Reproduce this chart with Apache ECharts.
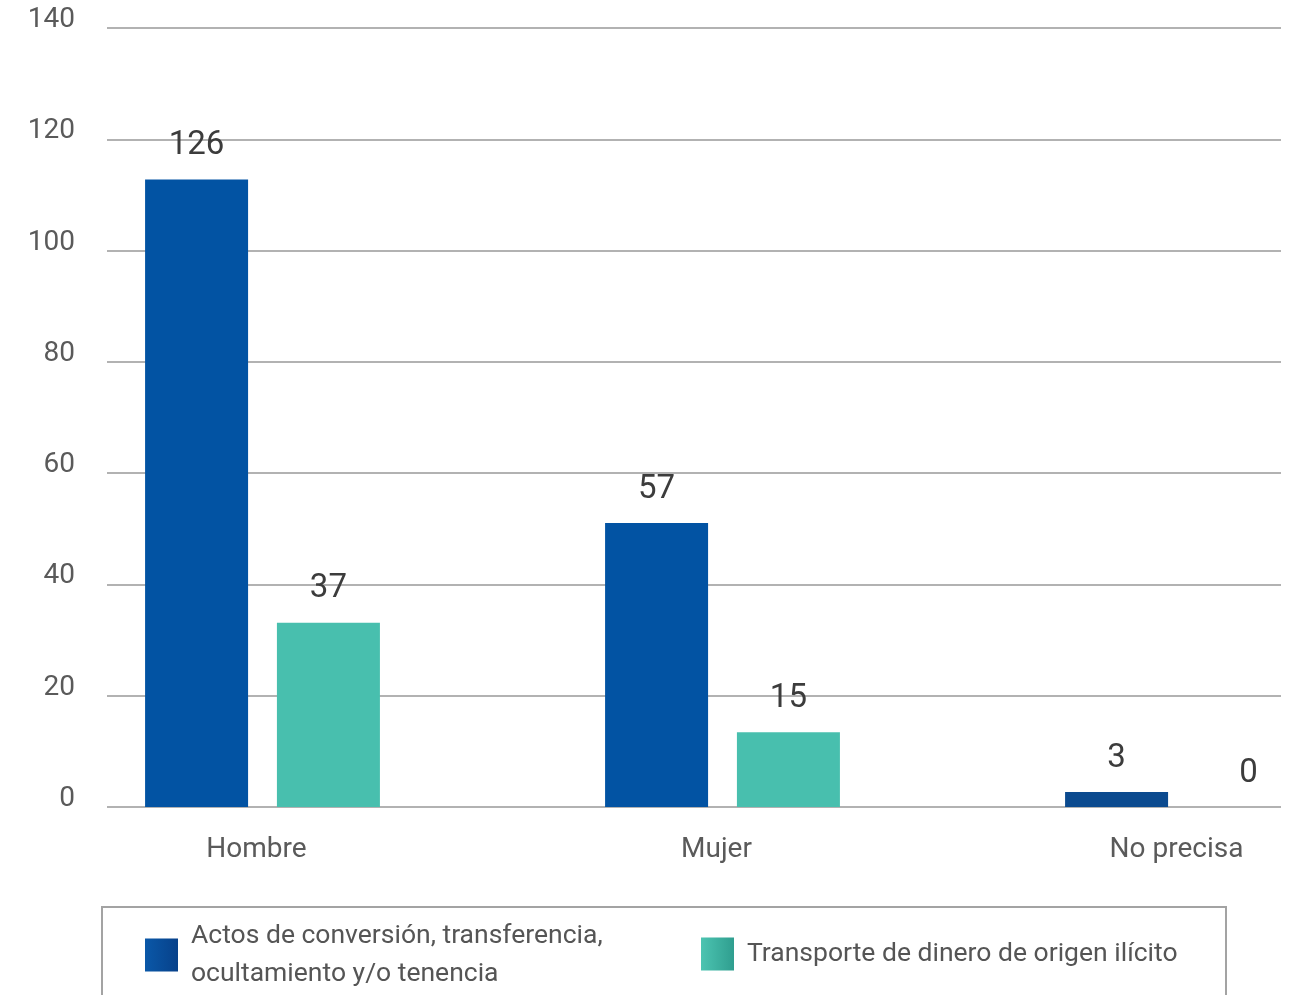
<!DOCTYPE html>
<html>
<head>
<meta charset="utf-8">
<script src="https://cdn.jsdelivr.net/npm/echarts@6/dist/echarts.min.js"></script>
<style>
  html, body { margin: 0; padding: 0; background: #ffffff; }
  #chart { width: 1291px; height: 995px; }
</style>
</head>
<body>
<div id="chart"></div>
<script>
// ---- data ----
const categories = ['Hombre', 'Mujer', 'No precisa'];
const seriesNames = ['Actos de conversión, transferencia,\nocultamiento y/o tenencia', 'Transporte de dinero de origen ilícito'];
const actosValues = [126, 57, 3];
const transporteValues = [37, 15, 0];
const yTickMin = 0;
const yTickMax = 140;
const yTickStep = 20;

// ---- chart ----
const FONT = "Roboto, 'DejaVu Sans Condensed', sans-serif";
const BLUE = '#0253a3';
const BLUE_DARK = '#0b4a8f';
const TEAL = '#48bfae';
const chart = echarts.init(document.getElementById('chart'), null, { renderer: 'canvas' });

function grad(c1, c2) {
  return new echarts.graphic.LinearGradient(0, 0, 1, 0, [
    { offset: 0, color: c1 }, { offset: 1, color: c2 }
  ]);
}

const actosData = actosValues.map(function (v, i) {
  return i === 2 ? { value: v, itemStyle: { color: BLUE_DARK } } : v;
});

const option = {
  backgroundColor: '#ffffff',
  animation: false,
  textStyle: { fontFamily: FONT },
  grid: [
    { left: 107, width: 1174, top: 28, height: 779, outerBoundsMode: 'none', containLabel: false },
    { left: 32.5, width: 1380, top: 28, height: 779, outerBoundsMode: 'none', containLabel: false }
  ],
  xAxis: [
    { gridIndex: 0, type: 'category', data: categories, show: false },
    {
      gridIndex: 1, type: 'category', data: categories,
      axisLine: { show: false }, axisTick: { show: false },
      axisLabel: {
        color: '#5a5a5a', fontSize: 28, fontFamily: FONT, margin: 29,
        padding: [0, 12, 0, 0]
      }
    }
  ],
  yAxis: [
    {
      gridIndex: 0, type: 'value', min: yTickMin, max: yTickMax, interval: yTickStep,
      axisLine: { show: false }, axisTick: { show: false },
      axisLabel: {
        color: '#5a5a5a', fontSize: 28, fontFamily: FONT, margin: 32,
        verticalAlign: 'bottom', lineHeight: 16
      },
      splitLine: { show: true, lineStyle: { color: '#999999', width: 1.5 } }
    },
    {
      gridIndex: 1, type: 'value', min: 0, max: 156.4,
      show: false, splitLine: { show: false }
    }
  ],
  legend: [
    {
      left: 145, top: 917, padding: 0, orient: 'horizontal',
      data: [{ name: seriesNames[0], itemStyle: { color: grad('#0a58a8', '#07418a') } }],
      itemWidth: 33, itemHeight: 33,
      icon: 'rect',
      textStyle: { color: '#555555', fontSize: 26.5, lineHeight: 38, fontFamily: FONT, padding: [0, 0, 0, 8] }
    },
    {
      left: 701, top: 935, padding: 0, orient: 'horizontal',
      data: [{ name: seriesNames[1], itemStyle: { color: grad('#4cc4b1', '#2f9e8f') } }],
      itemWidth: 33, itemHeight: 33,
      icon: 'rect',
      textStyle: { color: '#555555', fontSize: 26.5, lineHeight: 38, fontFamily: FONT, padding: [0, 0, 0, 8] }
    }
  ],
  graphic: [
    {
      type: 'rect', z: 0,
      shape: { x: 102, y: 907, width: 1124, height: 120 },
      style: { fill: 'none', stroke: '#a3a3a3', lineWidth: 2 }
    }
  ],
  series: [
    {
      name: seriesNames[0], type: 'bar', xAxisIndex: 1, yAxisIndex: 1,
      data: actosData, barWidth: 103, barGap: '28%',
      itemStyle: { color: BLUE },
      label: {
        show: true, position: 'top', distance: 17,
        color: '#3c3c3c', fontSize: 33, fontFamily: FONT
      }
    },
    {
      name: seriesNames[1], type: 'bar', xAxisIndex: 1, yAxisIndex: 1,
      data: transporteValues, barWidth: 103, barGap: '28%',
      itemStyle: { color: TEAL },
      label: {
        show: true, position: 'top', distance: 17,
        color: '#3c3c3c', fontSize: 33, fontFamily: FONT
      }
    }
  ]
};

chart.setOption(option);
</script>
</body>
</html>
